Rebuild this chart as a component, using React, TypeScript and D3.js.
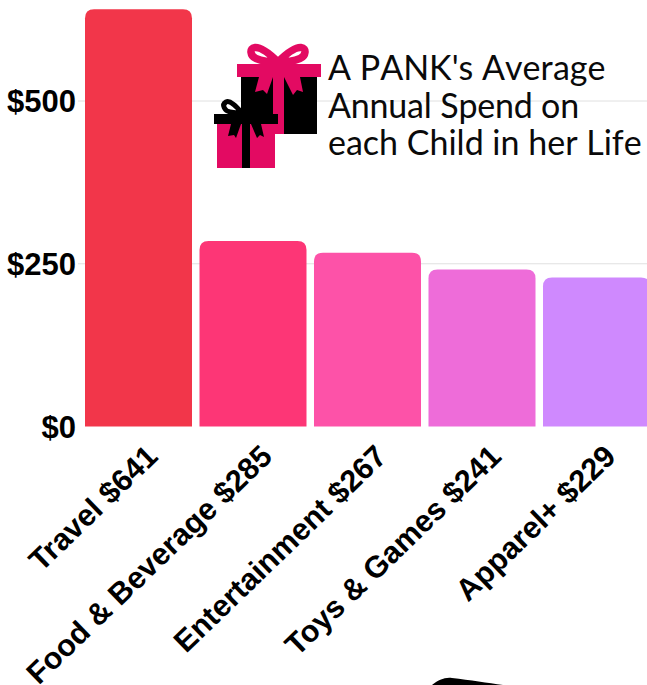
import React from "react";
import * as d3 from "d3";

const categories = ["Travel", "Food & Beverage", "Entertainment", "Toys & Games", "Apparel+"];
const spend = [641, 285, 267, 241, 229];
const barColors = ["#f2364a", "#fd3676", "#fd52a8", "#ee6cd9", "#cf89fe"];
const yTicks = [0, 250, 500];
const titleLines = ["A PANK's Average", "Annual Spend on", "each Child in her Life"];
const titleTracking = [0, -0.2, 0];

const width = 647;
const height = 685;
const baseline = 426.5;

const y = d3.scaleLinear().domain([0, 500]).range([baseline, 101]);
const x = d3.scaleBand<string>().domain(categories).range([85, 650]).paddingInner(0.0655).paddingOuter(0);

// Rectangle with rounded top corners only
function topRounded(x0: number, y0: number, w: number, h: number, r: number) {
  return `M${x0},${y0 + h}V${y0 + r}Q${x0},${y0} ${x0 + r},${y0}H${x0 + w - r}Q${x0 + w},${y0} ${x0 + w},${y0 + r}V${y0 + h}Z`;
}

const pink = "#e30a62";

function BigGift() {
  return (
    <g>
      <rect x={241} y={76} width={76} height={58} fill="#000" />
      <path d="M278,62C270,54 261,47 255,47.5C249,48 250,56 256,58.5C262,61 270,62 278,62Z M278,62C286,54 295,47 301,47.5C307,48 306,56 300,58.5C294,61 286,62 278,62Z"
        fill="none" stroke={pink} strokeWidth={7.5} />
      <rect x={237} y={64} width={84} height={13} fill={pink} />
      <rect x={273} y={76} width={11} height={58} fill={pink} />
      <path d="M259,77L255,92L263,90L267,94L273,77Z M284,77L293,95L297,90L303,92L300,77Z" fill={pink} />
    </g>
  );
}

function SmallGift() {
  return (
    <g>
      <path d="M242,113C236,106 230,100 226,102C221,105 225,111 230,112C235,113 240,113 242,113Z"
        fill="none" stroke="#000" strokeWidth={5} />
      <rect x={217} y={124} width={58} height={44} fill={pink} />
      <rect x={214} y={114} width={64} height={10} fill="#000" />
      <rect x={242} y={124} width={8} height={44} fill="#000" />
      <path d="M231,124L228,136L234,135L236,138L241,124Z M251,124L257,138L260,135L264,137L261,124Z" fill="#000" />
    </g>
  );
}

export default function App() {
  return (
    <svg width={width} height={height} style={{ position: "absolute", left: 0, top: 0, display: "block" }}>
      <rect width={width} height={height} fill="#fff" />
      {yTicks.filter((t) => t > 0).map((t) => (
        <line key={t} x1={78} x2={width} y1={y(t)} y2={y(t)} stroke="#e0e0e0" strokeWidth={1} />
      ))}
      {categories.map((c, i) => (
        <path key={c} d={topRounded(x(c)!, y(spend[i]), x.bandwidth(), baseline - y(spend[i]), 9)} fill={barColors[i]} />
      ))}
      {yTicks.map((t) => (
        <text key={t} x={76} y={y(t)} dy="0.36em" textAnchor="end" fontFamily="'Liberation Sans', Arial, sans-serif" fontWeight={700} fontSize={31} fill="#000">
          {`$${t}`}
        </text>
      ))}
      {categories.map((c, i) => {
        const cx = x(c)! + x.bandwidth() / 2 + 21;
        return (
          <text key={c} transform={`translate(${cx},${baseline + 32}) rotate(-44)`} textAnchor="end" fontFamily="'Liberation Sans', Arial, sans-serif" fontWeight={700} fontSize={30.5} fill="#000">
            {`${c} $${spend[i]}`}
          </text>
        );
      })}
      <BigGift />
      <SmallGift />
      {titleLines.map((l, i) => (
        <text key={l} x={328} y={80 + i * 37.7} fontFamily="Lato, sans-serif" fontSize={34} letterSpacing={titleTracking[i]} style={{ fontKerning: "none" }} fill="#0a0a0a">
          {l}
        </text>
      ))}
      <path d="M432,685C438,680 445,677 452,678C470,680 488,683 503,685Z" fill="#000" />
    </svg>
  );
}
